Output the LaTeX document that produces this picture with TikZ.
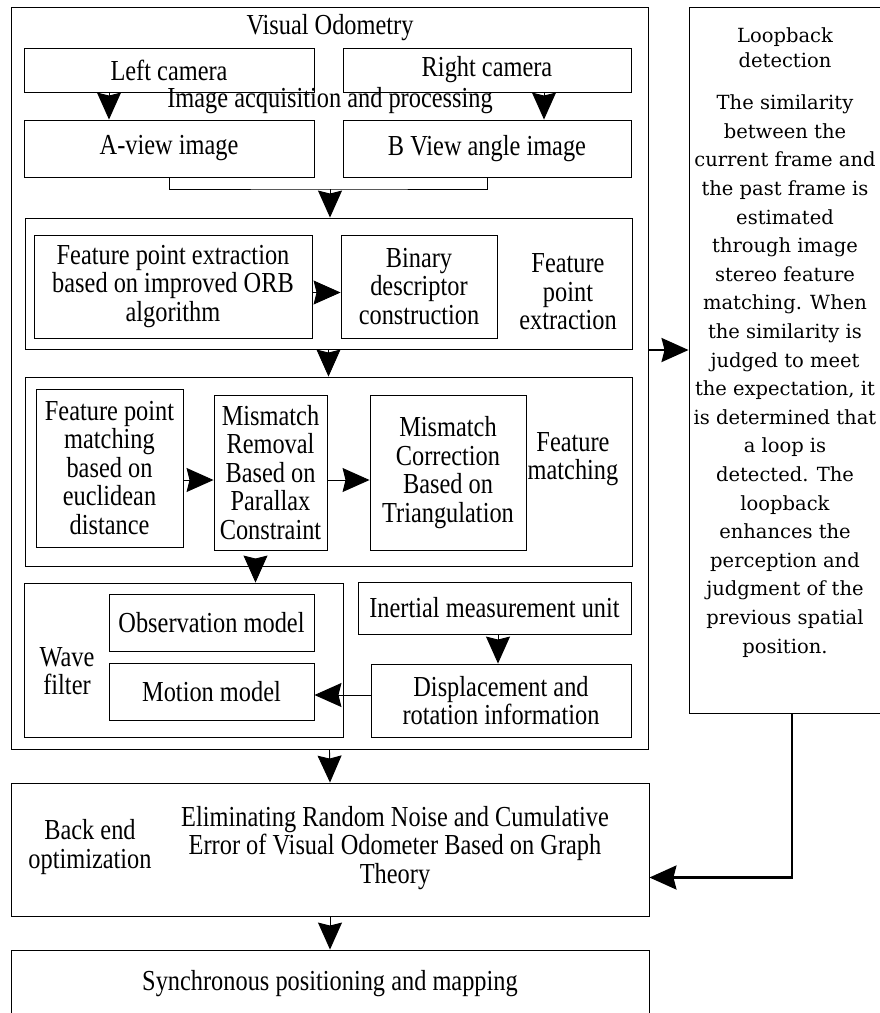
\documentclass[tikz,border=0pt]{standalone}
\usepackage{fontspec}
\setmainfont{Liberation Serif}[FakeStretch=0.84]
\newfontfamily\loopfont{DejaVu Serif}
\usetikzlibrary{arrows.meta}
\tikzset{>={Stealth[width=24pt,length=27pt,inset=3pt]}}
\tikzset{
	blk/.style={draw, line width=0.9pt, inner sep=0pt, align=center},
	lbl/.style={inner sep=0pt, align=center},
	flow/.style={->, line width=0.9pt},
	loopflow/.style={->, line width=2.4pt},
}

\begin{document}
\begin{tikzpicture}[x=1pt,y=-1pt,font=\fontsize{29}{28.5}\selectfont]
	\useasboundingbox (0,0) rectangle (880,1013);
	% visual odometry
	\node[blk, minimum width=637pt, minimum height=742pt] (vo) at (329.5,378) {};
	\node[lbl] (voTitle) at (330,28) {Visual Odometry};
	\node[blk, minimum width=290pt, minimum height=44pt] (left) at (169,70) {Left camera};
	\node[blk, minimum width=288pt, minimum height=44pt] (right) at (487,70) {Right camera};
	\node[lbl] (acq) at (330,101) {Image acquisition and processing};
	\node[blk, minimum width=290pt, minimum height=57pt] (aview) at (169,148.5) {A-view image};
	\node[blk, minimum width=288pt, minimum height=57pt] (bview) at (487,148.5) {B View angle image};
	\coordinate (join) at (330,189);
	% feature point extraction
	\node[blk, minimum width=607pt, minimum height=131pt] (fpe) at (328.5,283.5) {};
	\node[blk, minimum width=278pt, minimum height=103pt] (orb) at (173,286.5) {Feature point extraction\\based on improved ORB\\algorithm};
	\node[blk, minimum width=156pt, minimum height=103pt] (bin) at (419,286.5) {Binary\\descriptor\\construction};
	\node[lbl] (fpeLabel) at (568,292) {Feature\\point\\extraction};
	% feature matching
	\node[blk, minimum width=607pt, minimum height=189pt] (fm) at (328.5,471.5) {};
	\node[blk, minimum width=147pt, minimum height=158pt] (euc) at (109.5,468) {Feature point\\matching\\based on\\euclidean\\distance};
	\node[blk, minimum width=113pt, minimum height=155pt] (par) at (270.5,472.5) {Mismatch\\Removal\\Based on\\Parallax\\Constraint};
	\node[blk, minimum width=156pt, minimum height=155pt] (tri) at (448,472.5) {Mismatch\\Correction\\Based on\\Triangulation};
	\node[lbl] (fmLabel) at (573,459) {Feature\\matching};
	% wave filter
	\node[blk, minimum width=319pt, minimum height=154pt] (wave) at (183.5,660) {};
	\node[blk, minimum width=205pt, minimum height=57pt] (obs) at (211.5,622.5) {Observation model};
	\node[blk, minimum width=205pt, minimum height=57pt] (mot) at (211.5,691.5) {Motion model};
	\node[lbl] (waveLabel) at (67,671) {Wave\\filter};
	\node[blk, minimum width=273pt, minimum height=52pt] (imu) at (494.5,608) {Inertial measurement unit};
	\node[blk, minimum width=260pt, minimum height=73pt] (disp) at (501,700.5) {Displacement and\\rotation information};
	% loopback
	\node[blk, minimum width=194pt, minimum height=706pt] (loop) at (786,360) {};
	\node[lbl, font=\loopfont\fontsize{19.5}{25}\selectfont] (loopTitle) at (785,48) {Loopback\\detection};
	\node[lbl, font=\loopfont\fontsize{19.5}{28.6}\selectfont] (loopText) at (785,376) {The similarity\\between the\\current frame and\\the past frame is\\estimated\\through image\\stereo feature\\matching. When\\the similarity is\\judged to meet\\the expectation, it\\is determined that\\a loop is\\detected. The\\loopback\\enhances the\\perception and\\judgment of the\\previous spatial\\position.};
	% back end
	\node[blk, minimum width=638pt, minimum height=133pt] (back) at (330,849.5) {};
	\node[lbl] (backLabel) at (90,847) {Back end\\optimization};
	\node[lbl] (backText) at (395,848) {Eliminating Random Noise and Cumulative\\Error of Visual Odometer Based on Graph\\Theory};
	\node[blk, minimum width=638pt, minimum height=90pt] (slam) at (330,995) {};
	\node[lbl] (slamText) at (330,984) {Synchronous positioning and mapping};

	\draw[flow] ([xshift=-60pt]left.south) -- ([xshift=-60pt]aview.north);
	\draw[flow] ([xshift=57pt]right.south) -- ([xshift=57pt]bview.north);
	\draw[line width=0.9pt] (aview.south) |- (join) -| (bview.south);
	\draw[flow] (join) -- (fpe.north -| join);
	\draw[flow] ([yshift=-6pt]orb.east) -- ([yshift=-6pt]bin.west);
	\draw[flow] (fpe.south) -- (fm.north);
	\draw[flow] ([yshift=-12pt]euc.east) -- ([yshift=-7.5pt]par.west);
	\draw[flow] ([yshift=-7.5pt]par.east) -- ([yshift=-7.5pt]tri.west);
	\draw[flow] ([xshift=-73pt]fm.south) -- ([xshift=-73pt]fm.south |- wave.north);
	\draw[flow] ([xshift=3.5pt]imu.south) -- ([xshift=3.5pt]imu.south |- disp.north);
	\draw[flow] ([yshift=5.5pt]disp.west) -- ([yshift=5.5pt]disp.west -| mot.east);
	\draw[flow] (vo.south) -- (back.north);
	\draw[loopflow] ([yshift=28pt]vo.east) -- ([yshift=28pt]vo.east -| loop.west);
	\draw[loopflow] ([xshift=6pt]loop.south) |- ([yshift=-28pt]back.east);
	\draw[flow] (back.south) -- (slam.north);
\end{tikzpicture}
\end{document}
